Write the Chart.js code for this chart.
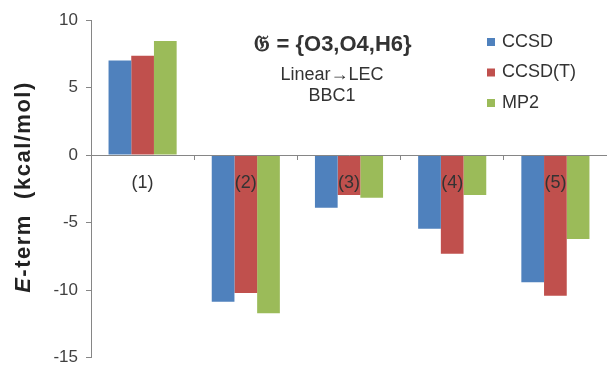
<!DOCTYPE html>
<html>
<head>
<meta charset="utf-8">
<script src="https://cdn.jsdelivr.net/npm/chart.js@4"></script>
<style>
  html, body { margin: 0; padding: 0; background: #fff; }
  #wrap { width: 607px; height: 376px; }
</style>
</head>
<body>
<div id="wrap"><canvas id="grafico"></canvas></div>
<script>
// --- Dados ---
const categorias = ["(1)", "(2)", "(3)", "(4)", "(5)"];
const ccsd = [7.0, -10.85, -3.9, -5.45, -9.4];
const ccsdT = [7.35, -10.2, -2.95, -7.3, -10.4];
const mp2 = [8.45, -11.7, -3.15, -2.95, -6.2];
const yTicks = [10, 5, 0, -5, -10, -15];

const corTexto = "#404040";
const corEixo = "#868686";
const fonte = "'Liberation Sans', Arial, sans-serif";

// título do eixo y, com o E em itálico
const tituloY = {
  id: "tituloY",
  afterDraw(chart) {
    const ctx = chart.ctx;
    ctx.save();
    ctx.translate(24, 187);
    ctx.rotate(-Math.PI / 2);
    ctx.fillStyle = "#222";
    ctx.textBaseline = "middle";
    ctx.letterSpacing = "1.5px";
    const partes = [
      { t: "E", f: "italic bold 22px " + fonte },
      { t: "-term  (kcal/mol)", f: "bold 22px " + fonte },
    ];
    let total = 0;
    partes.forEach((p) => { ctx.font = p.f; total += ctx.measureText(p.t).width; });
    let x = -total / 2;
    partes.forEach((p) => {
      ctx.font = p.f;
      ctx.textAlign = "left";
      ctx.fillText(p.t, x, 0);
      x += ctx.measureText(p.t).width;
    });
    ctx.restore();
  },
};

// anotação no centro superior
const anotacao = {
  id: "anotacao",
  afterDraw(chart) {
    const ctx = chart.ctx;
    ctx.save();
    ctx.fillStyle = "#333";
    ctx.textAlign = "center";
    ctx.textBaseline = "middle";
    ctx.font = "bold 22px " + fonte;
    ctx.fillText("\u{1D50A} = {O3,O4,H6}", 333, 45);
    ctx.font = "18px " + fonte;
    ctx.fillText("Linear\u2192LEC", 332, 75);
    ctx.fillText("BBC1", 332, 96);
    ctx.restore();
  },
};

// legenda vertical à direita
const legenda = {
  id: "legenda",
  afterDraw(chart) {
    const ctx = chart.ctx;
    ctx.save();
    ctx.font = "18px " + fonte;
    ctx.textBaseline = "middle";
    ctx.textAlign = "left";
    chart.data.datasets.forEach((ds, i) => {
      const y = 42 + i * 30.5;
      ctx.fillStyle = ds.backgroundColor;
      ctx.fillRect(487, y - 4, 8, 8);
      ctx.fillStyle = "#333";
      ctx.fillText(ds.label, 502, y);
    });
    ctx.restore();
  },
};

new Chart(document.getElementById("grafico"), {
  type: "bar",
  data: {
    labels: categorias,
    datasets: [
      { label: "CCSD", data: ccsd, backgroundColor: "#4F81BD" },
      { label: "CCSD(T)", data: ccsdT, backgroundColor: "#C0504D" },
      { label: "MP2", data: mp2, backgroundColor: "#9BBB59" },
    ],
  },
  options: {
    responsive: true,
    maintainAspectRatio: false,
    animation: false,
    datasets: { bar: { categoryPercentage: 0.66, barPercentage: 1.0 } },
    layout: { padding: { top: 20, bottom: 6, left: 0, right: 0 } },
    plugins: {
      legend: { display: false },
      tooltip: { enabled: false },
      title: { display: false },
    },
    scales: {
      x: {
        position: { y: 0 },
        grid: {
          offset: true,
          drawOnChartArea: false,
          drawTicks: true,
          tickLength: 4,
          color: corEixo,
          z: 1,
        },
        border: { display: true, color: corEixo, width: 1, z: 1 },
        ticks: {
          color: "#333",
          font: { family: fonte, size: 18 },
          padding: 13,
          z: 1,
        },
      },
      y: {
        min: -15,
        max: 10,
        afterFit(scale) { scale.width = 91; },
        afterBuildTicks(scale) { scale.ticks = yTicks.map((v) => ({ value: v })); },
        grid: {
          drawOnChartArea: false,
          drawTicks: true,
          tickLength: 5,
          color: corEixo,
        },
        border: { display: true, color: corEixo, width: 1 },
        ticks: {
          color: corTexto,
          font: { family: fonte, size: 17 },
          padding: 8,
        },
      },
    },
  },
  plugins: [tituloY, anotacao, legenda],
});
</script>
</body>
</html>
